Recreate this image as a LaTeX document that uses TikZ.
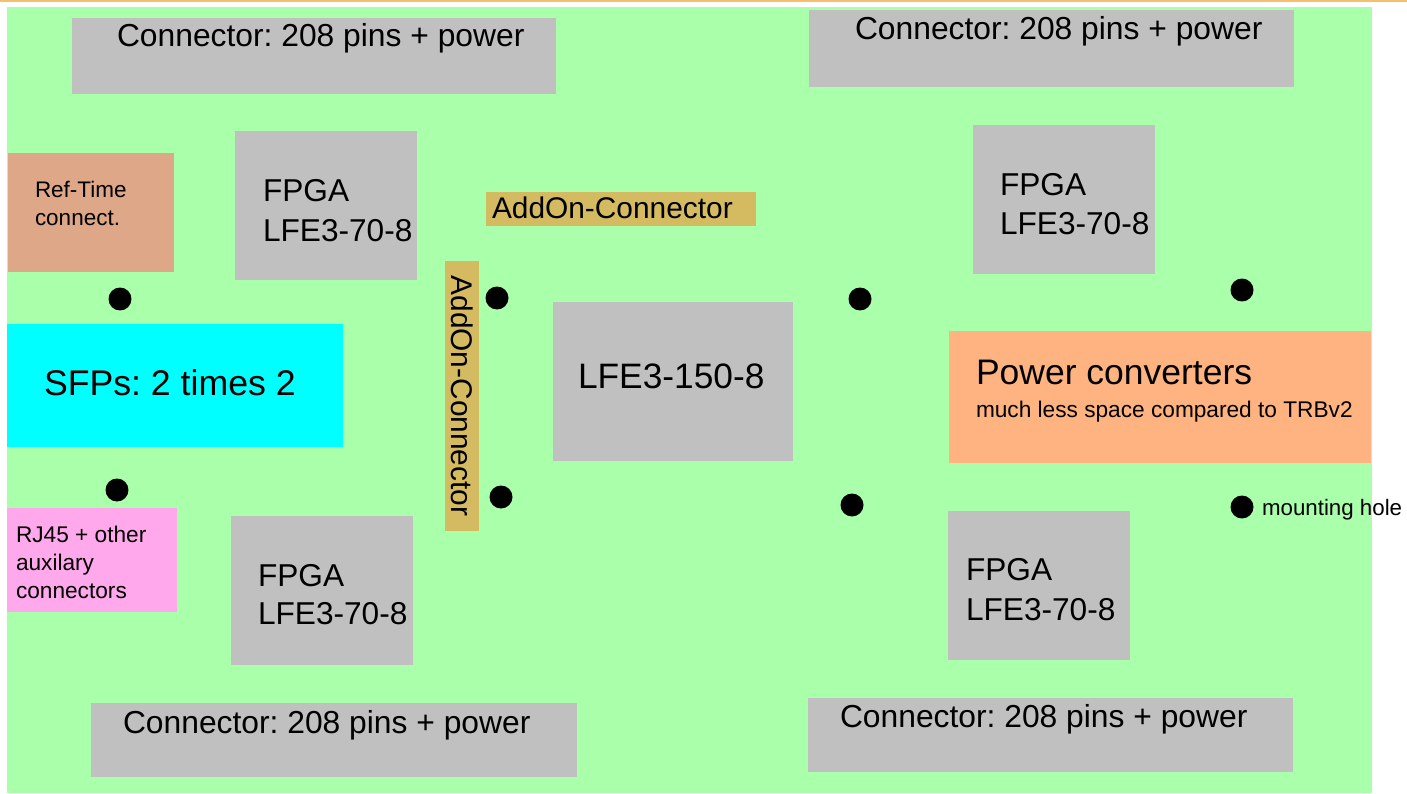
\documentclass[tikz,border=0pt]{standalone}
\usepackage{fontspec}
\setmainfont{Liberation Sans}
\frenchspacing
\definecolor{board}{RGB}{170,255,170}
\definecolor{chip}{RGB}{192,192,192}
\definecolor{reftime}{RGB}{222,168,136}
\definecolor{sfp}{RGB}{0,255,255}
\definecolor{rj}{RGB}{255,168,236}
\definecolor{addon}{RGB}{212,186,96}
\definecolor{power}{RGB}{255,179,128}
\definecolor{topline}{RGB}{245,192,110}
\newcommand{\fsz}[1]{\fontsize{#1}{#1}\selectfont}
\begin{document}
\begin{tikzpicture}[x=0.02cm,y=-0.02cm,
  area/.style={inner sep=0,outer sep=0,anchor=north west,draw=none},
  lbl/.style={inner sep=0,outer sep=0,anchor=base west,text=black},
  hole/.style={circle,fill=black,inner sep=0,minimum size=0.46cm}]
\useasboundingbox (0,0) rectangle (1407,794);
\fill[white] (0,0) rectangle (1407,794);
\fill[topline] (0,0) rectangle (1407,2);
% board
\node[area,fill=board,minimum width=27.3cm,minimum height=15.72cm] (board) at (7,7) {};
% connectors
\node[area,fill=chip,minimum width=9.68cm,minimum height=1.52cm] (c1) at (72,18) {};
\node[area,fill=chip,minimum width=9.70cm,minimum height=1.54cm] (c2) at (809,10) {};
\node[area,fill=chip,minimum width=9.72cm,minimum height=1.48cm] (c3) at (91,703) {};
\node[area,fill=chip,minimum width=9.70cm,minimum height=1.48cm] (c4) at (808,698) {};
\node[lbl,font=\fsz{18.1}] (t1) at (117,47) {Connector: 208 pins + power};
\node[lbl,font=\fsz{18.1}] (t2) at (855,40) {Connector: 208 pins + power};
\node[lbl,font=\fsz{18.1}] (t3) at (123,733) {Connector: 208 pins + power};
\node[lbl,font=\fsz{18.1}] (t4) at (840,727) {Connector: 208 pins + power};
% ref time
\node[area,fill=reftime,minimum width=3.32cm,minimum height=2.38cm] (ref) at (8,153) {};
\node[lbl,font=\fsz{12.8}] (reft1) at (35,197) {Ref-Time};
\node[lbl,font=\fsz{12.8}] (reft2) at (35,225) {connect.};
% FPGAs
\node[area,fill=chip,minimum width=3.64cm,minimum height=2.98cm] (f1) at (235,131) {};
\node[area,fill=chip,minimum width=3.64cm,minimum height=2.98cm] (f2) at (973,125) {};
\node[area,fill=chip,minimum width=3.64cm,minimum height=2.98cm] (f3) at (231,516) {};
\node[area,fill=chip,minimum width=3.64cm,minimum height=2.98cm] (f4) at (948,511) {};
\node[lbl,font=\fsz{18}] (f1a) at (263,201) {FPGA};
\node[lbl,font=\fsz{18}] (f1b) at (263,241) {LFE3-70-8};
\node[lbl,font=\fsz{18}] (f2a) at (1000,195) {FPGA};
\node[lbl,font=\fsz{18}] (f2b) at (1000,235) {LFE3-70-8};
\node[lbl,font=\fsz{18}] (f3a) at (258,586) {FPGA};
\node[lbl,font=\fsz{18}] (f3b) at (258,624) {LFE3-70-8};
\node[lbl,font=\fsz{18}] (f4a) at (966,580) {FPGA};
\node[lbl,font=\fsz{18}] (f4b) at (966,620) {LFE3-70-8};
% SFPs
\node[area,fill=sfp,minimum width=6.72cm,minimum height=2.46cm] (sfp) at (7,324) {};
\node[lbl,font=\fsz{20.3}] (sfpt) at (44,395) {SFPs: 2 times 2};
% RJ45
\node[area,fill=rj,minimum width=3.40cm,minimum height=2.08cm] (rj) at (7,508) {};
\node[lbl,font=\fsz{12.9}] (rj1) at (16,542) {RJ45 + other};
\node[lbl,font=\fsz{12.9}] (rj2) at (16,570) {auxilary};
\node[lbl,font=\fsz{12.9}] (rj3) at (16,598) {connectors};
% AddOn connectors
\node[area,fill=addon,minimum width=5.40cm,minimum height=0.68cm] (ah) at (486,192) {};
\node[lbl,font=\fsz{17}] (aht) at (492,218) {AddOn-Connector};
\node[area,fill=addon,minimum width=0.68cm,minimum height=5.40cm] (av) at (445,261) {};
\node[inner sep=0,rotate=-90,font=\fsz{17}] (avt) at (av.center) {AddOn-Connector};
% central FPGA
\node[area,fill=chip,minimum width=4.80cm,minimum height=3.18cm] (main) at (553,302) {};
\node[lbl,font=\fsz{20.1}] (maint) at (578,388) {LFE3-150-8};
% power
\node[area,fill=power,minimum width=8.44cm,minimum height=2.64cm] (pw) at (949,331) {};
\node[lbl,font=\fsz{20.2}] (pwt) at (976,384) {Power converters};
\node[lbl,font=\fsz{12.9}] (pws) at (976,417) {much less space compared to TRBv2};
% mounting holes
\node[hole] (h1) at (120,299) {};
\node[hole] (h2) at (497,298) {};
\node[hole] (h3) at (860,299) {};
\node[hole] (h4) at (1242,290) {};
\node[hole] (h5) at (117,490) {};
\node[hole] (h6) at (501,497) {};
\node[hole] (h7) at (852,505) {};
\node[hole] (h8) at (1242,507) {};
\node[lbl,font=\fsz{12.7}] (mh) at (1262,515) {mounting hole};
\end{tikzpicture}
\end{document}
